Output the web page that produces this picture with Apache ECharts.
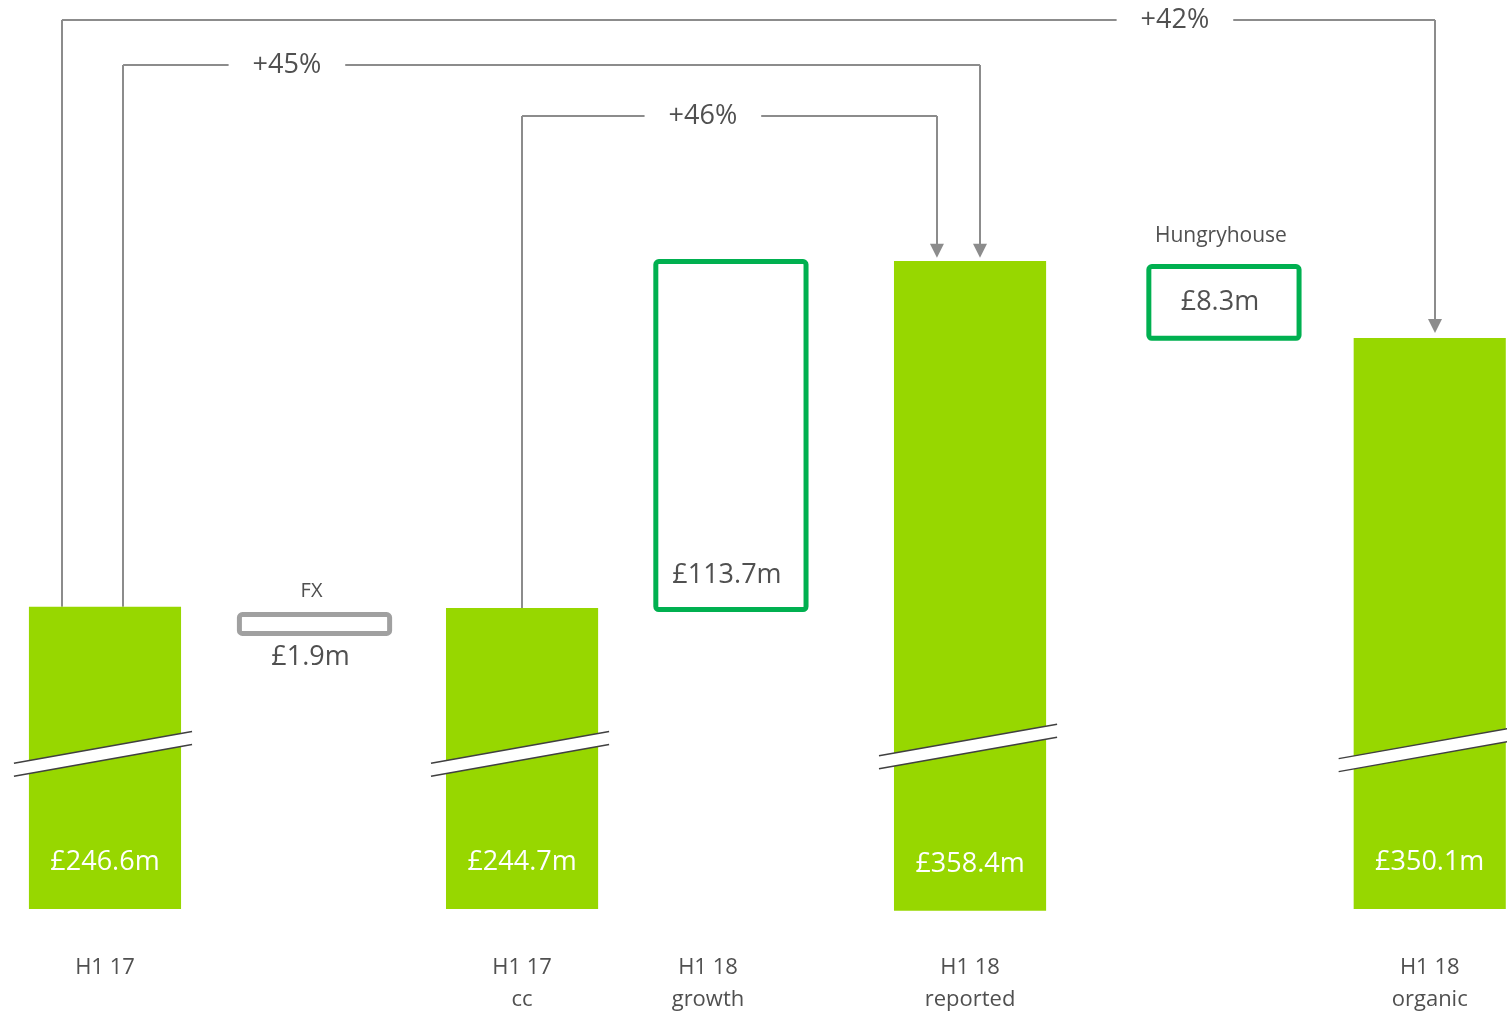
<!DOCTYPE html>
<html>
<head>
<meta charset="utf-8">
<title>H1 18 revenue bridge</title>
<script src="https://cdn.jsdelivr.net/npm/echarts@6/dist/echarts.min.js"></script>
<style>
    html, body { margin: 0; padding: 0; background: #fff; }
    #bridge { width: 1507px; height: 1013px; }
</style>
</head>
<body>
<div id="bridge"></div>
<script>
// boxes of the bridge (x in slot units, y on the broken £m scale)
const boxNames = ['H1 17', 'FX', 'H1 17 cc', 'H1 18 growth', 'H1 18 reported', 'Hungryhouse', 'H1 18 organic'];
const boxX = [0, 0.949, 1.889, 2.835, 3.918, 5.068, 6.0];
const boxLow = [149, 237.2, 149, 244.9, 148.4, 332.5, 149];
const boxHigh = [246.6, 244.9, 246.2, 358.9, 358.3, 357.3, 333.4];
const boxLabels = ['£246.6m', '£1.9m', '£244.7m', '£113.7m', '£358.4m', '£8.3m', '£350.1m'];
const boxKind = ['bar', 'loss', 'bar', 'gain', 'bar', 'gain', 'bar'];
const boxTitles = ['', 'FX', '', '', '', 'Hungryhouse', ''];

// category labels under the bars
const catText = ['H1 17', 'H1 17\ncc', 'H1 18\ngrowth', 'H1 18\nreported', 'H1 18\norganic'];
const catX = [0, 1.889, 2.731, 3.918, 6.0];

// axis-break marks
const breakX = [0, 1.889, 3.918, 6.0];
const breakY = [199.2, 199.2, 201.6, 200.7];

// growth connectors
const connStartX = [-0.195, 0.082, 1.889];
const connStartY = [246.6, 246.6, 246.2];
const connLevel = [436.1, 421.6, 405.1];
const connEndX = [6.024, 3.963, 3.768];
const connEndY = [337.3, 361.6, 361.6];
const pctLabels = ['+42%', '+45%', '+46%'];
const pctX = [4.846, 0.824, 2.708];

const GREEN = '#97d700';
const DARK_GREEN = '#00b050';
const GREY = '#a0a0a0';
const LINE_GREY = '#8c8c8c';
const TEXT = '#505050';
const FONT = '"Open Sans", "Noto Sans", sans-serif';
const BAR_W = 0.689;
const BOX_W = 0.703;

let bridge = echarts.init(document.getElementById('bridge'));

function renderBox(params, api) {
    let i = params.dataIndex;
    let x = api.value(0);
    let top = api.coord([x, api.value(2)]);
    let bot = api.coord([x, api.value(1)]);
    let kind = boxKind[i];
    let w = api.size([kind === 'bar' ? BAR_W : BOX_W, 0])[0];
    let left = top[0] - w / 2;
    let children = [];
    if (kind === 'bar') {
        children.push({
            type: 'rect',
            shape: {x: left, y: top[1], width: w, height: bot[1] - top[1]},
            style: {fill: GREEN}
        });
        children.push({
            type: 'text',
            style: {text: boxLabels[i], x: top[0], y: bot[1] - 47, align: 'center', verticalAlign: 'middle',
                fill: '#fff', font: '27px ' + FONT}
        });
    } else {
        let lw = 5;
        children.push({
            type: 'rect',
            shape: {x: left + lw / 2, y: top[1] + lw / 2, width: w - lw, height: bot[1] - top[1] - lw, r: 3},
            style: {fill: '#fff', stroke: kind === 'gain' ? DARK_GREEN : GREY, lineWidth: lw}
        });
        let ly;
        if (kind === 'loss') {
            ly = bot[1] + 21;
        } else if (bot[1] - top[1] > 150) {
            ly = bot[1] - 37;
        } else {
            ly = (top[1] + bot[1]) / 2;
        }
        children.push({
            type: 'text',
            style: {text: boxLabels[i], x: top[0] - 4, y: ly, align: 'center', verticalAlign: 'middle',
                fill: TEXT, font: '27px ' + FONT}
        });
        if (boxTitles[i]) {
            children.push({
                type: 'text',
                style: {text: boxTitles[i], x: top[0] - 3, y: top[1] - (kind === 'loss' ? 21 : 28),
                    align: 'center', verticalAlign: 'middle', fill: TEXT,
                    font: (kind === 'loss' ? '20px ' : '21px ') + FONT}
            });
        }
    }
    return {type: 'group', children: children};
}

function renderBreak(params, api) {
    let c = api.coord([api.value(0), api.value(1)]);
    let w = api.size([BAR_W, 0])[0];
    let lx = c[0] - w / 2 - 15;
    let rx = c[0] + w / 2 + 11;
    let k = 0.178;
    let yAt = function (x, off) { return c[1] - k * (x - c[0]) + off; };
    let g = 6.5;
    return {
        type: 'group',
        children: [
            {type: 'polygon', shape: {points: [[lx, yAt(lx, -g)], [rx, yAt(rx, -g)], [rx, yAt(rx, g)], [lx, yAt(lx, g)]]},
                style: {fill: '#fff'}},
            {type: 'line', shape: {x1: lx, y1: yAt(lx, -g), x2: rx, y2: yAt(rx, -g)}, style: {stroke: '#404040', lineWidth: 1.5}},
            {type: 'line', shape: {x1: lx, y1: yAt(lx, g), x2: rx, y2: yAt(rx, g)}, style: {stroke: '#404040', lineWidth: 1.5}}
        ]
    };
}

function renderCat(params, api) {
    let base = api.coord([api.value(0), 149]);
    return {
        type: 'text',
        style: {text: catText[params.dataIndex], x: base[0], y: base[1] + 43, align: 'center', verticalAlign: 'top',
            fill: TEXT, font: '22px ' + FONT, lineHeight: 32}
    };
}

function renderPct(params, api) {
    let p = api.coord([api.value(0), api.value(1)]);
    return {
        type: 'text',
        style: {text: pctLabels[params.dataIndex], x: p[0], y: p[1], align: 'center', verticalAlign: 'middle',
            fill: TEXT, font: '27px ' + FONT, backgroundColor: '#fff', padding: [4, 24]}
    };
}

let boxData = boxX.map(function (x, i) { return [x, boxLow[i], boxHigh[i]]; });
let catData = catX.map(function (x) { return [x, 149]; });
let breakData = breakX.map(function (x, i) { return [x, breakY[i]]; });
let pctData = pctX.map(function (x, i) { return [x, connLevel[i]]; });

let plainSegs = [];
let arrowSegs = [];
for (let i = 0; i < connStartX.length; i++) {
    plainSegs.push({coords: [[connStartX[i], connStartY[i]], [connStartX[i], connLevel[i]]]});
    plainSegs.push({coords: [[connStartX[i], connLevel[i]], [connEndX[i], connLevel[i]]]});
    arrowSegs.push({coords: [[connEndX[i], connLevel[i]], [connEndX[i], connEndY[i]]]});
}

option = {
    animation: false,
    backgroundColor: '#fff',
    grid: {left: 0, right: 0, top: 8, bottom: 104},
    xAxis: {type: 'value', min: -0.4755, max: 6.35, show: false},
    yAxis: {type: 'value', min: 149, max: 440, show: false},
    series: [
        {
            type: 'lines',
            coordinateSystem: 'cartesian2d',
            data: plainSegs,
            symbol: ['none', 'none'],
            lineStyle: {color: LINE_GREY, width: 2, opacity: 1},
            z: 1
        },
        {
            type: 'lines',
            coordinateSystem: 'cartesian2d',
            data: arrowSegs,
            symbol: ['none', 'triangle'],
            symbolSize: [12, 14],
            itemStyle: {color: LINE_GREY},
            lineStyle: {color: LINE_GREY, width: 2, opacity: 1},
            z: 1
        },
        {
            type: 'custom',
            renderItem: renderBox,
            data: boxData,
            clip: false,
            z: 2
        },
        {
            type: 'custom',
            renderItem: renderBreak,
            data: breakData,
            clip: false,
            z: 3
        },
        {
            type: 'custom',
            renderItem: renderCat,
            data: catData,
            clip: false,
            z: 3
        },
        {
            type: 'custom',
            renderItem: renderPct,
            data: pctData,
            clip: false,
            z: 4
        }
    ]
};

bridge.setOption(option);
</script>
</body>
</html>
